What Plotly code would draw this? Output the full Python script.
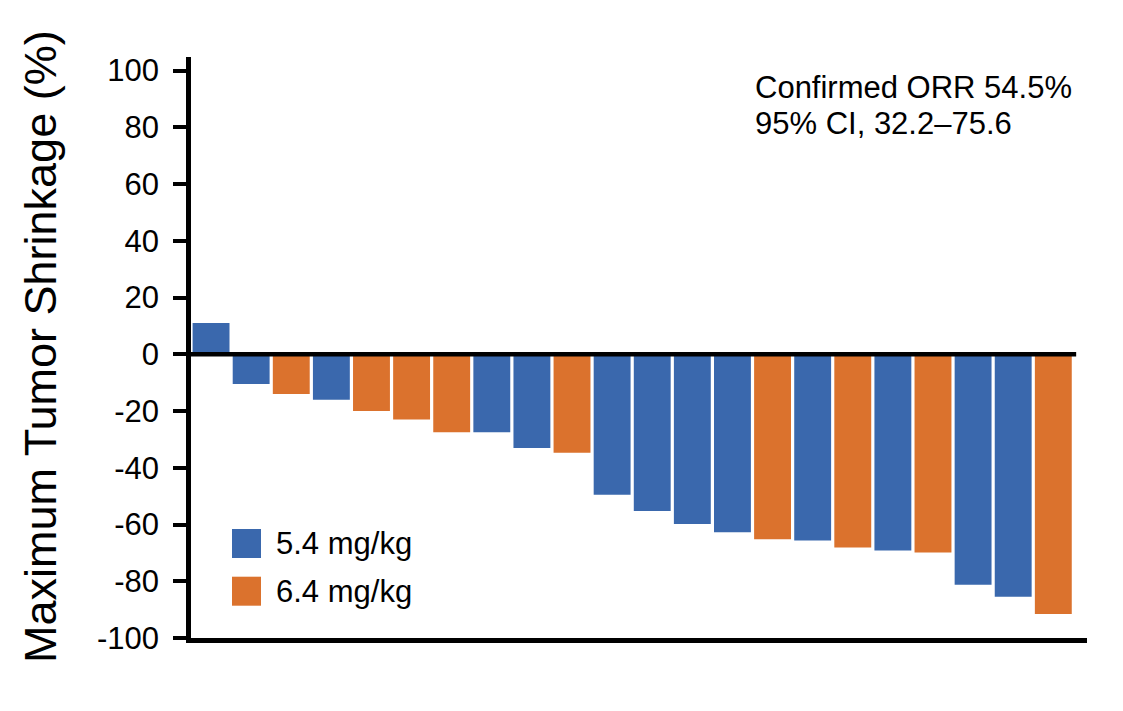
import plotly.graph_objects as go

# ---- data ----
patients = list(range(22))
shrinkage = [11, -10.5, -14, -16, -20, -23, -27.5, -27.5, -33, -34.7, -49.5,
             -55.2, -59.8, -62.7, -65.2, -65.6, -68.1, -69.2, -69.9, -81.2, -85.5, -91.5]
dose = ["5.4", "5.4", "6.4", "5.4", "6.4", "6.4", "6.4", "5.4", "5.4", "6.4", "5.4",
        "5.4", "5.4", "5.4", "6.4", "5.4", "6.4", "5.4", "6.4", "5.4", "5.4", "6.4"]
legend_labels = ["5.4 mg/kg", "6.4 mg/kg"]
y_ticks = [100, 80, 60, 40, 20, 0, -20, -40, -60, -80, -100]
annot_lines = ["Confirmed ORR 54.5%", "95% CI, 32.2\u201375.6"]

colors = {"5.4": "#3A68AD", "6.4": "#DB722D"}
FONT = "Liberation Sans, Arial, sans-serif"

# page body has an 8px margin; figure sized so it fills the window
OFF = 8
W, H = 1123 - OFF, 711 - OFF
L, R, T, B = 191 - OFF, 36, 57 - OFF, 73
pw, ph = W - L - R, H - T - B

def px(x):  # absolute window x -> paper
    return (x - OFF - L) / pw

def py(y):  # absolute window y -> paper
    return (H - B - (y - OFF)) / ph

fig = go.Figure()
fig.add_trace(go.Bar(
    x=patients, y=shrinkage,
    marker=dict(color=[colors[d] for d in dose], line=dict(width=0)),
    showlegend=False, hoverinfo="y",
))

shapes = [
    dict(type="line", xref="x", yref="y", x0=-0.5, x1=21.57, y0=0, y1=0,
         line=dict(color="black", width=4.5)),
]
annotations = []
for i, (lab, key) in enumerate(zip(legend_labels, ["5.4", "6.4"])):
    y0 = 529 + i * 47.7
    shapes.append(dict(type="rect", xref="paper", yref="paper",
                       x0=px(232), x1=px(261), y0=py(y0 + 29), y1=py(y0),
                       fillcolor=colors[key], line=dict(width=0)))
    annotations.append(dict(xref="paper", yref="paper", x=px(274), y=py(y0 + 14.5),
                            xanchor="left", yanchor="middle", showarrow=False,
                            text=lab, font=dict(family=FONT, size=31, color="black")))

for i, line in enumerate(annot_lines):
    annotations.append(dict(xref="paper", yref="paper", x=px(753), y=py(87 + i * 36.5),
                            xanchor="left", yanchor="middle", showarrow=False,
                            text=line, font=dict(family=FONT, size=31, color="black")))

annotations.append(dict(xref="paper", yref="paper", x=px(40), y=py(347),
                        xanchor="center", yanchor="middle", showarrow=False,
                        textangle=-90, text="Maximum Tumor Shrinkage (%)",
                        font=dict(family=FONT, size=45, color="black")))

fig.update_layout(
    width=W, height=H,
    margin=dict(l=L, r=R, t=T, b=B, pad=0),
    paper_bgcolor="white", plot_bgcolor="white",
    bargap=0.08,
    shapes=shapes, annotations=annotations,
    xaxis=dict(range=[-0.5, 21.84], showticklabels=False, ticks="",
               showgrid=False, zeroline=False, showline=True,
               linecolor="black", linewidth=4.5),
    yaxis=dict(range=[-100, 104.8], tickvals=y_ticks, ticktext=[str(v) for v in y_ticks],
               ticks="outside", ticklen=13, tickwidth=4, tickcolor="black",
               ticklabelstandoff=8,
               showgrid=False, zeroline=False, showline=True,
               linecolor="black", linewidth=4.5,
               tickfont=dict(family=FONT, size=31, color="black")),
    font=dict(family=FONT),
)

fig.write_html("out.html")
